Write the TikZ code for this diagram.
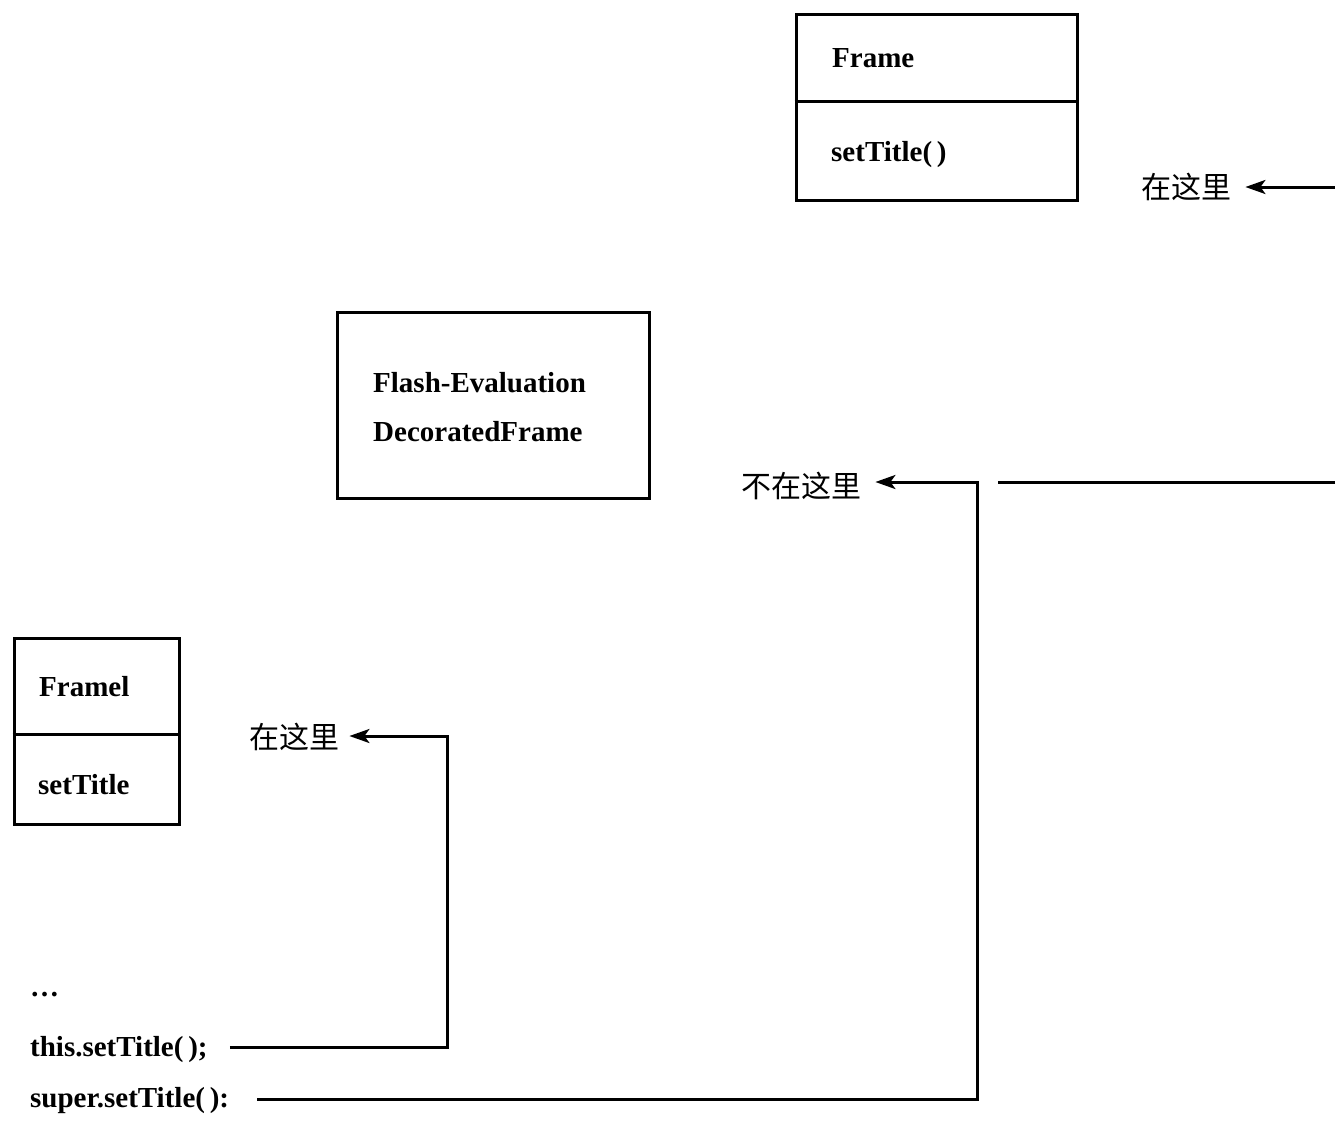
\documentclass[tikz,border=0pt]{standalone}
\usepackage{fontspec}
\setmainfont{Liberation Serif}
\newfontfamily\cjk{Noto Sans CJK SC}
\usetikzlibrary{arrows.meta}
\begin{document}
\begin{tikzpicture}[x=1pt,y=-1pt,
  box/.style={draw,line width=3pt,inner sep=0pt},
  lbl/.style={inner sep=0pt,anchor=west,font=\bfseries\fontsize{29}{34}\selectfont},
  zh/.style={inner sep=0pt,anchor=west,font=\cjk\fontsize{30}{34}\selectfont},
  conn/.style={line width=3pt},
  arr/.style={line width=3pt,-{Stealth[length=20pt,width=14pt,inset=5pt]}}]
\useasboundingbox (0,0) rectangle (1335,1128);
% Frame class
\node[box,minimum width=281pt,minimum height=186pt] (frame) at (936.5,107) {};
\draw[conn] (frame.west |- 0,101) -- (frame.east |- 0,101);
\node[lbl] (frameName) at (832,58) {Frame};
\node[lbl] (frameOp) at (831,155) {setTitle(\,)};
% Flash-Evaluation box
\node[box,minimum width=312pt,minimum height=186pt] (flash) at (493,405) {};
\node[lbl] (flash1) at (373,383) {Flash-Evaluation};
\node[lbl] (flash2) at (373,432) {DecoratedFrame};
% Framel class
\node[box,minimum width=165pt,minimum height=186pt] (framel) at (96.5,731) {};
\draw[conn] (framel.west |- 0,734) -- (framel.east |- 0,734);
\node[lbl] (framelName) at (39,687) {Framel};
\node[lbl] (framelOp) at (38,785) {setTitle};
% code lines
\node[lbl] (dots) at (30,995) {\ldots};
\node[lbl] (thisCall) at (30,1050) {this.setTitle(\,);};
\node[lbl] (superCall) at (30,1101) {super.setTitle(\,):};
% labels
\node[zh] (here1) at (1141,187) {在这里};
\node[zh] (notHere) at (741,486) {不在这里};
\node[zh] (here2) at (249,737) {在这里};
% connectors
\coordinate (edgeTop) at (1335,187);
\coordinate (edgeMid) at (1335,482);
\coordinate (midGap) at (998,482);
\draw[arr] (edgeTop) -- ([xshift=14pt]here1.east |- edgeTop);
\draw[conn] (edgeMid) -- (midGap);
\draw[arr] ([xshift=28pt]superCall.east |- 0,1099) -- (977,1099) -- (977,482) -- ([xshift=14pt]notHere.east |- 0,482);
\draw[arr] ([xshift=22pt]thisCall.east |- 0,1047) -- (447,1047) -- (447,736) -- ([xshift=10pt]here2.east |- 0,736);
\end{tikzpicture}
\end{document}
